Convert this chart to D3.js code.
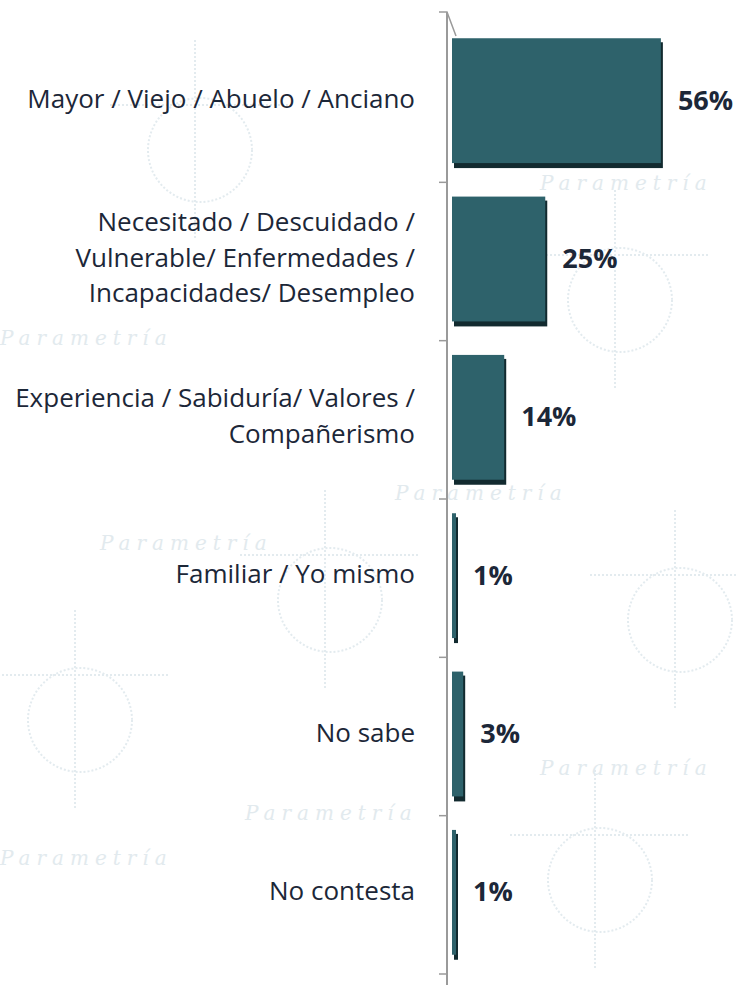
<!DOCTYPE html>
<html>
<head>
<meta charset="utf-8">
<script src="https://cdn.jsdelivr.net/npm/d3@7/dist/d3.min.js"></script>
<style>
  body { margin: 0; background: #fff; }
  svg { display: block; }
  .cat { font-family: "Open Sans", "Noto Sans", sans-serif; font-size: 26px; fill: #1c2738; }
  .val { font-family: "Open Sans", "Noto Sans", sans-serif; font-size: 27px; font-weight: bold; fill: #1c2738; }
  .wm { font-family: "DejaVu Serif", serif; font-style: italic; font-size: 20px; fill: #e2eaee; letter-spacing: 6px; }
</style>
</head>
<body>
<div id="chart"></div>
<script>
(function (d3) {
  'use strict';

  // data
  var categories = [
    ['Mayor / Viejo / Abuelo / Anciano'],
    ['Necesitado / Descuidado /', 'Vulnerable/ Enfermedades /', 'Incapacidades/ Desempleo'],
    ['Experiencia / Sabiduría/ Valores /', 'Compañerismo'],
    ['Familiar / Yo mismo'],
    ['No sabe'],
    ['No contesta']
  ];
  var values = [56, 25, 14, 1, 3, 1];
  var valueLabels = ['56%', '25%', '14%', '1%', '3%', '1%'];

  var width = 737, height = 985;
  var axisX = 452;

  var svg = d3.select('#chart').append('svg')
    .attr('width', width)
    .attr('height', height);

  // faint watermark in the background
  var wm = svg.append('g').attr('class', 'watermark');
  var wmStroke = '#e3ebef';
  [[200, 150], [620, 300], [80, 720], [600, 880], [330, 600], [680, 620]].forEach(function (p) {
    wm.append('circle').attr('cx', p[0]).attr('cy', p[1]).attr('r', 52)
      .attr('fill', 'none').attr('stroke', wmStroke).attr('stroke-width', 2).attr('stroke-dasharray', '2 2');
    wm.append('line').attr('x1', p[0] - 90).attr('x2', p[0] + 90).attr('y1', p[1] - 45).attr('y2', p[1] - 45)
      .attr('stroke', wmStroke).attr('stroke-width', 2).attr('stroke-dasharray', '2 2');
    wm.append('line').attr('x1', p[0] - 5).attr('x2', p[0] - 5).attr('y1', p[1] - 110).attr('y2', p[1] + 90)
      .attr('stroke', wmStroke).attr('stroke-width', 2).attr('stroke-dasharray', '2 2');
  });
  [[540, 190], [395, 500], [100, 550], [540, 775], [245, 820], [0, 345], [0, 865]].forEach(function (p) {
    wm.append('text').attr('class', 'wm').attr('x', p[0]).attr('y', p[1]).text('Parametría');
  });

  var y = d3.scaleBand()
    .domain(d3.range(values.length))
    .range([24, 974])
    .paddingInner(0.18)
    .paddingOuter(0.09);

  var x = d3.scaleLinear()
    .domain([0, 100])
    .range([axisX, axisX + 373]);

  // axis wall
  var axisG = svg.append('g').attr('stroke', '#9a9a9a').attr('fill', 'none');
  axisG.append('line').attr('x1', 447).attr('x2', 447).attr('y1', 12).attr('y2', height)
    .attr('stroke-width', 2);
  axisG.append('path').attr('d', 'M439,12 L447,12 L456,36').attr('stroke-width', 1.5);
  var step = y.step();
  var ticks = d3.range(values.length + 1).map(function (i) {
    return y(0) - (step - y.bandwidth()) / 2 + i * step;
  });
  axisG.selectAll('.tick').data(ticks.slice(1)).enter().append('line')
    .attr('x1', 439).attr('x2', 447)
    .attr('y1', function (d) { return d; })
    .attr('y2', function (d) { return d; })
    .attr('stroke-width', 1.5);

  var bars = svg.selectAll('.bar').data(values).enter().append('g').attr('class', 'bar');

  // dark underside / depth
  bars.append('rect')
    .attr('x', x(0) + 2)
    .attr('y', function (d, i) { return y(i) + 4; })
    .attr('width', function (d) { return Math.max(x(d) - x(0), 4); })
    .attr('height', y.bandwidth() - 4)
    .attr('fill', '#122a2f');

  bars.append('rect')
    .attr('x', x(0))
    .attr('y', function (d, i) { return y(i); })
    .attr('width', function (d) { return Math.max(x(d) - x(0), 4); })
    .attr('height', y.bandwidth() - 5)
    .attr('fill', '#2e626b');

  // value labels
  svg.selectAll('.val').data(values).enter().append('text')
    .attr('class', 'val')
    .attr('x', function (d) { return Math.max(x(d), x(0) + 4) + 17; })
    .attr('y', function (d, i) { return y(i) + y.bandwidth() / 2 - 3; })
    .attr('dy', '0.35em')
    .text(function (d, i) { return valueLabels[i]; });

  // category labels
  var lineH = 35.5;
  var cats = svg.selectAll('.cat').data(categories).enter().append('text')
    .attr('class', 'cat')
    .attr('text-anchor', 'end')
    .attr('y', function (d, i) { return y(i) + y.bandwidth() / 2 - 4 - (d.length - 1) * lineH / 2; });
  cats.selectAll('tspan').data(function (d) { return d; }).enter().append('tspan')
    .attr('x', 415)
    .attr('dy', function (d, j) { return j === 0 ? '0.35em' : lineH; })
    .text(function (d) { return d; });

})(window.d3);
</script>
</body>
</html>
